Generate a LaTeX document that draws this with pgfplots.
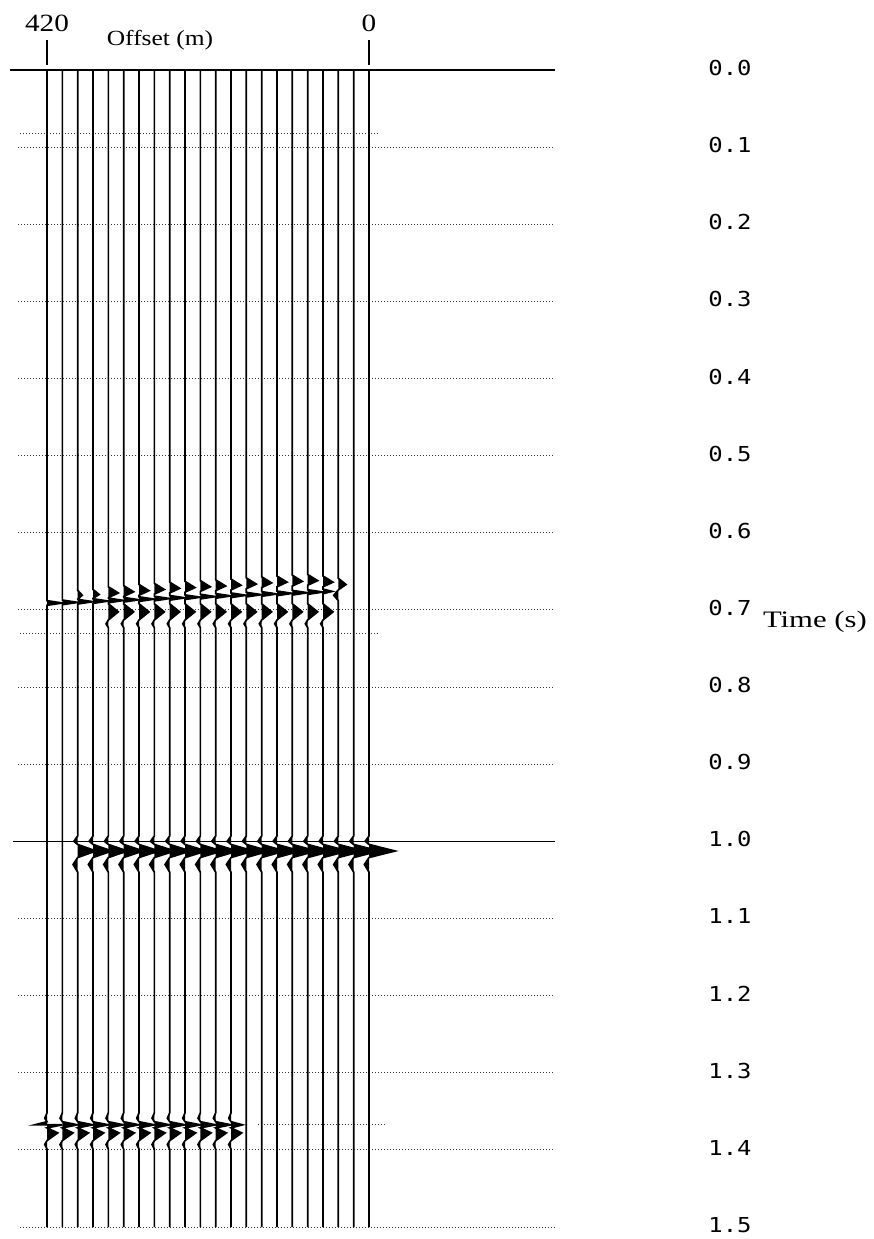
\documentclass[border=0pt]{standalone}
\usepackage{fontspec}
\setmainfont{Liberation Serif}
\newfontfamily\stretchserif[FakeStretch=1.18]{Liberation Serif}
\newfontfamily\timefont[FakeStretch=1.3]{Liberation Serif}
\newfontfamily\monofont[FakeStretch=1.16]{DejaVu Sans Mono}
\usepackage{pgfplots}
\pgfplotsset{compat=1.18}
\begin{document}
\begin{tikzpicture}
\begin{axis}[
  scale only axis, width=272.5pt, height=578.5pt,
  xmin=-242.6, xmax=468.3, x dir=reverse,
  ymin=0, ymax=1.5, y dir=reverse,
  axis line style={draw=none},
  xtick=\empty,
  ytick={0,0.1,0.2,0.3,0.4,0.5,0.6,0.7,0.8,0.9,1.0,1.1,1.2,1.3,1.4,1.5},
  yticklabels={0.0,0.1,0.2,0.3,0.4,0.5,0.6,0.7,0.8,0.9,1.0,1.1,1.2,1.3,1.4,1.5},
  yticklabel pos=right,
  major tick length=0pt,
  yticklabel style={font=\monofont\fontsize{10.3}{12}\selectfont, anchor=center, xshift=87.5pt, yshift=1pt},
  clip=false,
  grid/.style={black!80, line width=0.5pt, dash pattern=on 0.5pt off 1pt},
  tr/.style={black, line width=0.85pt, fill=black, mark=none},
]
% solid lines
\addplot[black, line width=0.8pt, mark=none] coordinates {(468.3,0) (-242.6,0)};
\addplot[black, line width=0.6pt, mark=none] coordinates {(464,1.0) (-242.6,1.0)};
% dotted gridlines
\addplot[grid] coordinates {(457.8,0.1) (-242.6,0.1)};
\addplot[grid] coordinates {(457.8,0.2) (-242.6,0.2)};
\addplot[grid] coordinates {(457.8,0.3) (-242.6,0.3)};
\addplot[grid] coordinates {(457.8,0.4) (-242.6,0.4)};
\addplot[grid] coordinates {(457.8,0.5) (-242.6,0.5)};
\addplot[grid] coordinates {(457.8,0.6) (-242.6,0.6)};
\addplot[grid] coordinates {(457.8,0.7) (-242.6,0.7)};
\addplot[grid] coordinates {(457.8,0.8) (-242.6,0.8)};
\addplot[grid] coordinates {(457.8,0.9) (-242.6,0.9)};
\addplot[grid] coordinates {(457.8,1.1) (-242.6,1.1)};
\addplot[grid] coordinates {(457.8,1.2) (-242.6,1.2)};
\addplot[grid] coordinates {(457.8,1.3) (-242.6,1.3)};
\addplot[grid] coordinates {(457.8,1.4) (-242.6,1.4)};
\addplot[grid] coordinates {(455,1.5) (-242.6,1.5)};
% extra dotted marker lines
\addplot[grid] coordinates {(455,0.082) (-14,0.082)};
\addplot[grid] coordinates {(455,0.73) (-14,0.73)};
\addplot[grid] coordinates {(145,1.3675) (-23,1.3675)};
% offset tick marks
\addplot[black, line width=0.8pt, mark=none] coordinates {(420,-0.0065) (420,-0.0389)};
\addplot[black, line width=0.8pt, mark=none] coordinates {(0,-0.0065) (0,-0.0389)};
% traces
\addplot[tr] coordinates {(420,0) (420,0.688) (400,0.691) (420,0.694)
 (420,1.352) (423,1.359) (420,1.3635) (436,1.3675) (400,1.3675) (420,1.3715) (406,1.378) (420,1.388) (423,1.393) (420,1.399) (420,1.5)};
\addplot[tr] coordinates {(400,0) (400,0.6872) (380,0.6902) (400,0.6932)
 (400,1.352) (403,1.359) (400,1.3635) (380,1.3675) (400,1.3715) (386,1.378) (400,1.388) (403,1.393) (400,1.399) (400,1.5)};
\addplot[tr] coordinates {(380,0) (380,0.6745) (374,0.681) (380,0.686) (380,0.6863) (360,0.6893) (380,0.6923)
 (380,0.993) (385,1.0) (380,1.004) (356,1.0125) (380,1.021) (386,1.03) (380,1.04)
 (380,1.352) (383,1.359) (380,1.3635) (360,1.3675) (380,1.3715) (366,1.378) (380,1.388) (383,1.393) (380,1.399) (380,1.5)};
\addplot[tr] coordinates {(360,0) (360,0.6735) (352,0.680) (360,0.685) (360,0.6855) (340,0.6885) (360,0.6915)
 (360,0.993) (365,1.0) (360,1.004) (335.5,1.0125) (360,1.021) (366,1.03) (360,1.04)
 (360,1.352) (363,1.359) (360,1.3635) (340,1.3675) (360,1.3715) (346,1.378) (360,1.388) (363,1.393) (360,1.399) (360,1.5)};
\addplot[tr] coordinates {(340,0) (340,0.670) (327,0.678) (340,0.684) (340,0.6847) (320,0.6877) (340,0.6907)
 (340,0.692) (327,0.7025) (340,0.713) (343,0.718) (340,0.723)
 (340,0.993) (345,1.0) (340,1.004) (315,1.0125) (340,1.021) (346,1.03) (340,1.04)
 (340,1.352) (343,1.359) (340,1.3635) (320,1.3675) (340,1.3715) (326,1.378) (340,1.388) (343,1.393) (340,1.399) (340,1.5)};
\addplot[tr] coordinates {(320,0) (320,0.6685) (307,0.6765) (320,0.6825) (320,0.6838) (300,0.6868) (320,0.6898)
 (320,0.692) (307,0.7025) (320,0.713) (323,0.718) (320,0.723)
 (320,0.993) (325,1.0) (320,1.004) (294.4,1.0125) (320,1.021) (326,1.03) (320,1.04)
 (320,1.352) (323,1.359) (320,1.3635) (300,1.3675) (320,1.3715) (306,1.378) (320,1.388) (323,1.393) (320,1.399) (320,1.5)};
\addplot[tr] coordinates {(300,0) (300,0.667) (287,0.675) (300,0.681) (300,0.683) (280,0.686) (300,0.689)
 (300,0.692) (287,0.7025) (300,0.713) (303,0.718) (300,0.723)
 (300,0.993) (305,1.0) (300,1.004) (274,1.0125) (300,1.021) (306,1.03) (300,1.04)
 (300,1.352) (303,1.359) (300,1.3635) (280,1.3675) (300,1.3715) (286,1.378) (300,1.388) (303,1.393) (300,1.399) (300,1.5)};
\addplot[tr] coordinates {(280,0) (280,0.6655) (267,0.6735) (280,0.6795) (280,0.6822) (260,0.6852) (280,0.6882)
 (280,0.692) (267,0.7025) (280,0.713) (283,0.718) (280,0.723)
 (280,0.993) (285,1.0) (280,1.004) (253.4,1.0125) (280,1.021) (286,1.03) (280,1.04)
 (280,1.352) (283,1.359) (280,1.3635) (260,1.3675) (280,1.3715) (266,1.378) (280,1.388) (283,1.393) (280,1.399) (280,1.5)};
\addplot[tr] coordinates {(260,0) (260,0.664) (247,0.672) (260,0.678) (260,0.6813) (240,0.6843) (260,0.6873)
 (260,0.692) (247,0.7025) (260,0.713) (263,0.718) (260,0.723)
 (260,0.993) (265,1.0) (260,1.004) (232.8,1.0125) (260,1.021) (266,1.03) (260,1.04)
 (260,1.352) (263,1.359) (260,1.3635) (240,1.3675) (260,1.3715) (246,1.378) (260,1.388) (263,1.393) (260,1.399) (260,1.5)};
\addplot[tr] coordinates {(240,0) (240,0.663) (227,0.671) (240,0.677) (240,0.6805) (220,0.6835) (240,0.6865)
 (240,0.692) (227,0.7025) (240,0.713) (243,0.718) (240,0.723)
 (240,0.993) (245,1.0) (240,1.004) (212.3,1.0125) (240,1.021) (246,1.03) (240,1.04)
 (240,1.352) (243,1.359) (240,1.3635) (220,1.3675) (240,1.3715) (226,1.378) (240,1.388) (243,1.393) (240,1.399) (240,1.5)};
\addplot[tr] coordinates {(220,0) (220,0.662) (207,0.670) (220,0.676) (220,0.6797) (200,0.6827) (220,0.6857)
 (220,0.692) (207,0.7025) (220,0.713) (223,0.718) (220,0.723)
 (220,0.993) (225,1.0) (220,1.004) (191.8,1.0125) (220,1.021) (226,1.03) (220,1.04)
 (220,1.352) (223,1.359) (220,1.3635) (200,1.3675) (220,1.3715) (206,1.378) (220,1.388) (223,1.393) (220,1.399) (220,1.5)};
\addplot[tr] coordinates {(200,0) (200,0.661) (187,0.669) (200,0.675) (200,0.6788) (180,0.6818) (200,0.6848)
 (200,0.692) (187,0.7025) (200,0.713) (203,0.718) (200,0.723)
 (200,0.993) (205,1.0) (200,1.004) (171.3,1.0125) (200,1.021) (206,1.03) (200,1.04)
 (200,1.352) (203,1.359) (200,1.3635) (180,1.3675) (200,1.3715) (186,1.378) (200,1.388) (203,1.393) (200,1.399) (200,1.5)};
\addplot[tr] coordinates {(180,0) (180,0.660) (167,0.668) (180,0.674) (180,0.678) (160,0.681) (180,0.684)
 (180,0.692) (167,0.7025) (180,0.713) (183,0.718) (180,0.723)
 (180,0.993) (185,1.0) (180,1.004) (150.7,1.0125) (180,1.021) (186,1.03) (180,1.04)
 (180,1.352) (183,1.359) (180,1.3635) (165,1.3675) (180,1.3715) (166,1.378) (180,1.388) (183,1.393) (180,1.399) (180,1.5)};
\addplot[tr] coordinates {(160,0) (160,0.6585) (147,0.6665) (160,0.6725) (160,0.6772) (140,0.6802) (160,0.6832)
 (160,0.692) (147,0.7025) (160,0.713) (163,0.718) (160,0.723)
 (160,0.993) (165,1.0) (160,1.004) (130.2,1.0125) (160,1.021) (166,1.03) (160,1.04) (160,1.5)};
\addplot[tr] coordinates {(140,0) (140,0.657) (127,0.665) (140,0.671) (140,0.6763) (120,0.6793) (140,0.6823)
 (140,0.692) (127,0.7025) (140,0.713) (143,0.718) (140,0.723)
 (140,0.993) (145,1.0) (140,1.004) (109.7,1.0125) (140,1.021) (146,1.03) (140,1.04) (140,1.5)};
\addplot[tr] coordinates {(120,0) (120,0.656) (107,0.664) (120,0.670) (120,0.6755) (100,0.6785) (120,0.6815)
 (120,0.692) (107,0.7025) (120,0.713) (123,0.718) (120,0.723)
 (120,0.993) (125,1.0) (120,1.004) (89.2,1.0125) (120,1.021) (126,1.03) (120,1.04) (120,1.5)};
\addplot[tr] coordinates {(100,0) (100,0.655) (87,0.663) (100,0.669) (100,0.6747) (80,0.6777) (100,0.6807)
 (100,0.692) (87,0.7025) (100,0.713) (103,0.718) (100,0.723)
 (100,0.993) (105,1.0) (100,1.004) (68.6,1.0125) (100,1.021) (106,1.03) (100,1.04) (100,1.5)};
\addplot[tr] coordinates {(80,0) (80,0.654) (67,0.662) (80,0.668) (80,0.6738) (60,0.6768) (80,0.6798)
 (80,0.692) (67,0.7025) (80,0.713) (83,0.718) (80,0.723)
 (80,0.993) (85,1.0) (80,1.004) (48.1,1.0125) (80,1.021) (86,1.03) (80,1.04) (80,1.5)};
\addplot[tr] coordinates {(60,0) (60,0.656) (47,0.664) (60,0.670) (60,0.673) (48,0.676) (60,0.679)
 (60,0.692) (47,0.7025) (60,0.713) (63,0.718) (60,0.723)
 (60,0.993) (65,1.0) (60,1.004) (27.6,1.0125) (60,1.021) (66,1.03) (60,1.04) (60,1.5)};
\addplot[tr] coordinates {(40,0) (40,0.659) (30,0.667) (40,0.674) (46,0.681) (40,0.688)
 (40,0.993) (45,1.0) (40,1.004) (7,1.0125) (40,1.021) (46,1.03) (40,1.04) (40,1.5)};
\addplot[tr] coordinates {(20,0)
 (20,0.993) (25,1.0) (20,1.004) (-13.5,1.0125) (20,1.021) (26,1.03) (20,1.04) (20,1.5)};
\addplot[tr] coordinates {(0,0)
 (0,0.993) (5,1.0) (0,1.004) (-34,1.0125) (0,1.021) (6,1.03) (0,1.04) (0,1.5)};
% labels
\node[font=\stretchserif\fontsize{12.4}{14}\selectfont] at (axis cs:420,-0.0603) {420};
\node[font=\stretchserif\fontsize{12.4}{14}\selectfont] at (axis cs:0,-0.0603) {0};
\node[font=\stretchserif\fontsize{10.8}{12}\selectfont] at (axis cs:272.6,-0.0389) {Offset (m)};
\node[font=\timefont\fontsize{11.8}{13}\selectfont] at (axis cs:-581.6,0.7155) {Time (s)};
\end{axis}
\pgfresetboundingbox
\path ([shift={(-5pt,-6pt)}]current axis.south west) rectangle ([shift={(159pt,35pt)}]current axis.north east);
\end{tikzpicture}
\end{document}
